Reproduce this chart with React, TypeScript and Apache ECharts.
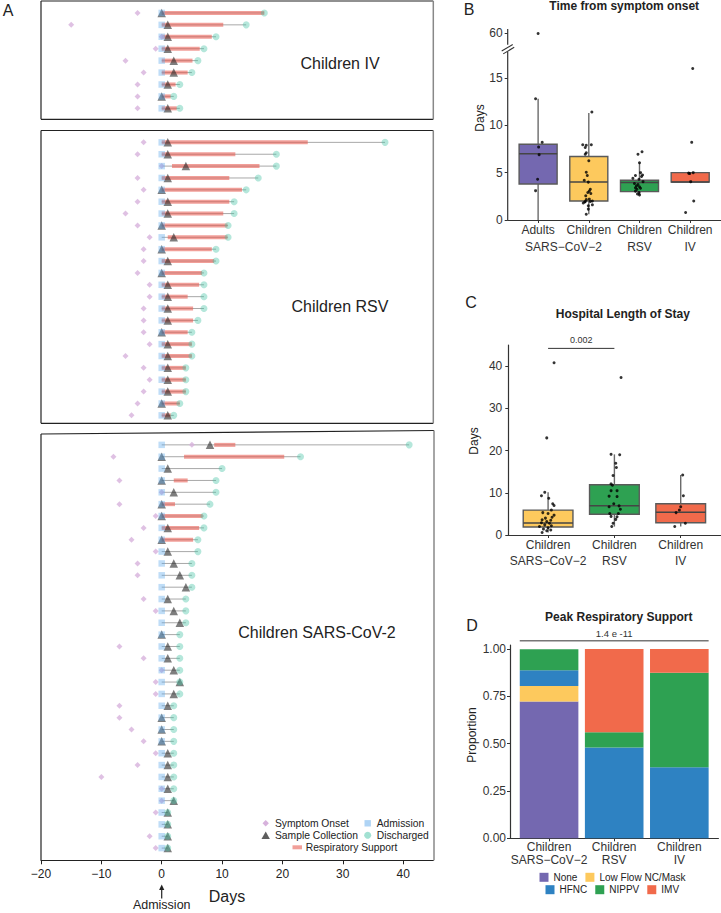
import React, { useEffect, useRef } from 'react';
import * as echarts from 'echarts';

const FONT = '"Liberation Sans", Arial, Helvetica, sans-serif';
const INK = '#222';
const LABEL = '#333';

// ---------------- Panel A : per-patient timelines (days from admission) ----------------
const A_X_TICKS = [-20, -10, 0, 10, 20, 30, 40];
const ADMISSION_DAY = 0;

const IV_ONSET: (number | null)[] = [-4, -15, 0, -1, -6, -3, -4, -4, -4];
const IV_SAMPLE = [0, 1, 1, 1, 2, 2, 1, 0, 1];
const IV_DISCHARGE = [17, 14, 9, 7, 6, 5, 3, 2, 3];
const IV_RESP_START: (number | null)[] = [0, 0, 0, 0, 0, 0, 0, 0, 0];
const IV_RESP_END: (number | null)[] = [17, 10.2, 8.3, 6.3, 5.1, 4.3, 2.3, 1.5, 2.5];

const RSV_ONSET: (number | null)[] = [-3, -4, 0, -4, -3, -4, -6, -4, -2, -3, -3, -4, -2, -2, -3, -3, -3, -2, -6, -3, -2, -3, -4, -5];
const RSV_SAMPLE = [1, 1, 4, 1, 0, 1, 1, 0, 2, 0, 1, 0, 1, 1, 1, 1, 0, 1, 1, 1, 1, 1, 0, 1];
const RSV_DISCHARGE = [37, 19, 19, 16, 14, 12, 12, 11, 11, 9, 9, 7, 7, 7, 7, 6, 5, 5, 5, 4, 4, 4, 3, 2];
const RSV_RESP_START: (number | null)[] = [0, 0, 1.7, 0, 0, 0, 0, 0, 1, 0, 0, 0, 0, 0, 0, 0, 0, 0, 0, 0, 0, 0, 0, 0];
const RSV_RESP_END: (number | null)[] = [24.2, 12.2, 16.2, 11.2, 13.3, 11.2, 10.2, 10.9, 10.9, 8.3, 8.7, 6.7, 6.2, 4.3, 5.2, 5.2, 4.3, 5, 5, 4, 4, 4, 3, 1.5];

const COV_ONSET: (number | null)[] = [5, -8, null, -7, 0, -7, -1, -3, -5, -1, -4, -4, null, -3, -1, null, null, -7, -3, 0, -1, -1, -7, -7, -5, -3, -1, -4, -10, 0, 0, -1, null, -2, -1];
const COV_SAMPLE = [8, 0, 1, 0, 2, 0, 0, 1, 0, 1, 2, 3, 4, 1, 2, 3, 0, 1, 1, 2, 3, 2, 1, 0, 0, 0, 1, 1, 1, 1, 2, 1, 1, 1, 1];
const COV_DISCHARGE = [41, 23, 10, 9, 9, 8, 7, 7, 6, 6, 5, 5, 5, 4, 4, 4, 3, 3, 3, 3, 3, 3, 2, 2, 2, 2, 2, 2, 2, 2, 2, 1, 1, 1, 1];
const COV_RESP_START: (number | null)[] = [8.7, 3.7, null, 2, null, 0, 0, 0, 0, null, null, null, null, null, null, null, null, null, null, null, null, null, null, null, null, null, null, null, null, null, null, null, null, null, null];
const COV_RESP_END: (number | null)[] = [12.2, 20.3, null, 4.3, null, 2.2, 6.8, 6.2, 5.2, null, null, null, null, null, null, null, null, null, null, null, null, null, null, null, null, null, null, null, null, null, null, null, null, null, null];

// ---------------- Panel B : time from symptom onset ----------------
const B_CATS = ['Adults', 'Children', 'Children', 'Children'];
const B_SUB = ['', '', 'RSV', 'IV'];
const B_GROUP_LABEL = 'SARS\u2212CoV\u22122';
const B_Y_TICKS = [0, 5, 10, 15];
const B_BREAK_VALUE = 60; // value drawn above the axis break
const B_BOX_STATS = [
  [0, 3.8, 7.0, 8.0, 12.8],
  [0.6, 2.0, 4.0, 6.7, 11.3],
  [2.65, 3.0, 3.95, 4.2, 6.05],
  [4.0, 4.0, 4.0, 5.0, 5.0],
];
const B_ADULT_VALUES = [60, 12.8, 8.2, 7.7, 6.9, 4.3, 3.1];
const B_ADULT_JITTER = [0, -0.05, 0.08, 0.01, 0.02, -0.01, -0.05];
const B_COV_VALUES = [11.4, 7.95, 7.9, 7.95, 7.65, 7.1, 6.95, 6.25, 5.05, 4.7, 4.2, 4.0, 3.25, 3.05, 2.9, 2.8, 2.55, 2.2, 2.15, 1.95, 1.95, 1.9, 2.0, 1.8, 1.5, 1.6, 1.15, 0.6];
const B_COV_JITTER = [0.06, -0.12, -0.05, 0.05, -0.07, -0.05, -0.07, 0, -0.05, -0.03, -0.09, -0.01, 0.03, 0.01, -0.02, 0.04, -0.06, 0.01, -0.05, -0.07, 0.03, -0.08, 0.07, -0.11, -0.01, 0.07, -0.01, -0.05];
const B_RSV_VALUES = [7.2, 6.95, 6.05, 5.0, 4.75, 4.7, 4.6, 4.4, 4.3, 4.05, 3.85, 3.75, 3.6, 3.5, 3.4, 3.35, 3.25, 3.05, 2.9, 2.75, 2.65];
const B_RSV_JITTER = [0.05, -0.03, 0, 0.02, 0.06, -0.08, 0.04, -0.13, -0.01, 0.07, -0.1, -0.03, -0.06, 0, -0.08, 0.02, -0.05, -0.08, -0.01, -0.04, 0];
const B_IV_VALUES = [16.0, 8.2, 5.0, 4.9, 4.95, 4.05, 2.0, 0.8];
const B_IV_JITTER = [0.05, 0.03, 0.06, -0.01, -0.03, 0.01, 0.07, -0.09];

// ---------------- Panel C : hospital length of stay ----------------
const C_CATS = ['Children', 'Children', 'Children'];
const C_SUB = ['SARS\u2212CoV\u22122', 'RSV', 'IV'];
const C_Y_TICKS = [0, 10, 20, 30, 40];
const C_PVALUE = '0.002';
const C_BOX_STATS = [
  [0.6, 1.9, 2.85, 5.9, 10.1],
  [2.0, 4.9, 6.95, 11.9, 19.1],
  [2.0, 2.9, 5.4, 7.4, 14.2],
];
const C_COV_VALUES = [40.8, 23.0, 10.1, 9.3, 8.7, 7.4, 7.0, 5.9, 5.3, 5.1, 4.7, 4.2, 4.0, 3.6, 3.5, 3.2, 2.9, 2.8, 2.4, 2.2, 2.0, 1.7, 1.4, 1.2, 1.0, 0.6];
const C_COV_JITTER = [0.09, -0.02, -0.05, -0.1, 0.01, 0.07, 0.09, 0.05, -0.08, 0, 0.09, 0.06, -0.04, -0.09, 0.04, -0.02, -0.1, 0.02, -0.05, 0.05, -0.13, 0, -0.07, 0.04, -0.02, -0.09];
const C_RSV_VALUES = [37.3, 19.1, 19.0, 17.0, 16.0, 14.1, 12.1, 11.8, 10.5, 10.5, 9.2, 9.1, 7.4, 6.9, 6.7, 6.1, 5.1, 5.1, 4.4, 4.3, 3.7, 2.8, 2.0];
const C_RSV_JITTER = [0.1, -0.05, 0.08, 0.02, 0.03, -0.02, -0.05, -0.03, 0.04, -0.05, -0.08, 0.04, -0.01, 0.07, -0.08, 0.09, -0.07, 0.06, -0.05, 0.04, 0.02, -0.02, -0.04];
const C_IV_VALUES = [14.2, 9.3, 6.7, 5.9, 5.3, 2.8, 2.0];
const C_IV_JITTER = [0.03, 0.04, 0, -0.02, -0.07, 0.07, -0.09];

// ---------------- Panel D : peak respiratory support ----------------
const D_CATS = ['Children', 'Children', 'Children'];
const D_SUB = ['SARS\u2212CoV\u22122', 'RSV', 'IV'];
const D_Y_TICKS = [0, 0.25, 0.5, 0.75, 1];
const D_PVALUE = '1.4 e -11';
const D_LEVELS = ['None', 'Low Flow NC/Mask', 'HFNC', 'NIPPV', 'IMV'];
const D_NONE = [0.722, 0, 0];
const D_LOWFLOW = [0.083, 0, 0];
const D_HFNC = [0.083, 0.48, 0.375];
const D_NIPPV = [0.111, 0.08, 0.5];
const D_IMV = [0, 0.44, 0.125];

// ---------------- styles ----------------
const C_ONSET = '#d7b2dc';
const C_ADMIT = 'rgba(95,170,235,0.5)';
const C_SAMPLE = 'rgba(40,40,40,0.75)';
const C_DISCH = 'rgba(70,195,165,0.5)';
const C_RESP = 'rgba(232,95,85,0.6)';
const C_GREY = '#a8a8a8';

const PURPLE = '#7468B0';
const YELLOW = '#FDC95D';
const BLUE = '#2E82C2';
const GREEN = '#2EA152';
const RED = '#F16A4B';

const GRID = [
  { left: 41, top: 1, width: 392.3, height: 118.3 },
  { left: 41, top: 130.5, width: 392.3, height: 292.8 },
  { left: 41, top: 433, width: 392.3, height: 427.3 },
  { left: 507.7, top: 29, width: 212.9, height: 191 },
  { left: 508.3, top: 345, width: 212.2, height: 190 },
  { left: 510, top: 645, width: 208.4, height: 193.3 },
];
const A_Y_MAX = [9.92, 24.67, 36.03];
const B_Y_MAX = 20.17;
const B_BREAK_AT = 19.7; // axis position used for the value above the break
const B_BREAK_LOW = 17.77;
const B_BREAK_HIGH = 18.5;

const minusFmt = (v: number) => (v < 0 ? '\u2212' + Math.abs(v) : String(v));
const showB = (v: number) => (v > 17.5 ? B_BREAK_AT + (v - B_BREAK_VALUE) * 0.01 : v);

function segRender(color: string, width: number) {
  return (params: any, api: any) => {
    const a = api.coord([api.value(0), api.value(2)]);
    const b = api.coord([api.value(1), api.value(2)]);
    return {
      type: 'line',
      shape: { x1: a[0], y1: a[1], x2: b[0], y2: b[1] },
      style: { stroke: color, lineWidth: width, lineCap: 'butt' },
      silent: true,
    };
  };
}

function timelineSeries(gi: number, onset: (number | null)[], sample: number[], disch: number[], rs: (number | null)[], re: (number | null)[]) {
  const pts = (arr: (number | null)[]) =>
    arr.map((v, i) => (v == null ? null : [v, i + 1])).filter((d) => d != null);
  const common = { xAxisIndex: gi, yAxisIndex: gi, silent: true, emphasis: { disabled: true } };
  return [
    {
      ...common, type: 'custom', z: 2, encode: { x: [0, 1], y: 2 },
      renderItem: segRender(C_GREY, 1),
      data: disch.map((d, i) => [ADMISSION_DAY, d, i + 1]),
    },
    {
      ...common, type: 'custom', z: 3, encode: { x: [0, 1], y: 2 },
      renderItem: segRender(C_RESP, 4),
      data: rs.map((s, i) => (s == null || re[i] == null ? null : [s, re[i], i + 1])).filter((d) => d != null),
    },
    { ...common, type: 'scatter', z: 4, symbol: 'diamond', symbolSize: 6, itemStyle: { color: C_ONSET }, data: pts(onset) },
    { ...common, type: 'scatter', z: 5, symbol: 'triangle', symbolSize: 8.5, itemStyle: { color: C_SAMPLE }, data: pts(sample) },
    { ...common, type: 'scatter', z: 6, symbol: 'rect', symbolSize: 6.5, itemStyle: { color: C_ADMIT }, data: pts(sample.map(() => ADMISSION_DAY)) },
    { ...common, type: 'scatter', z: 7, symbol: 'circle', symbolSize: 7, itemStyle: { color: C_DISCH }, data: pts(disch) },
  ];
}

function boxSeries(ai: number, stats: number[][], colors: string[]) {
  return {
    type: 'custom', xAxisIndex: ai, yAxisIndex: ai, z: 2, silent: true,
    encode: { x: 0, y: [1, 2, 3, 4, 5] },
    data: stats.map((s, i) => [i + 1, ...s]),
    renderItem: (params: any, api: any) => {
      const x = api.value(0);
      const lo = api.coord([x, api.value(1)]);
      const q1 = api.coord([x, api.value(2)]);
      const md = api.coord([x, api.value(3)]);
      const q3 = api.coord([x, api.value(4)]);
      const hi = api.coord([x, api.value(5)]);
      const bw = api.size([1, 0])[0] * 0.75;
      const cx = lo[0];
      const wStyle = { stroke: '#6a6a6a', lineWidth: 1.4 };
      return {
        type: 'group',
        children: [
          { type: 'line', shape: { x1: cx, y1: lo[1], x2: cx, y2: q1[1] }, style: wStyle },
          { type: 'line', shape: { x1: cx, y1: q3[1], x2: cx, y2: hi[1] }, style: wStyle },
          { type: 'rect', shape: { x: cx - bw / 2, y: q3[1], width: bw, height: q1[1] - q3[1] }, style: { fill: colors[params.dataIndex], stroke: '#5a5a5a', lineWidth: 1.4 } },
          { type: 'line', shape: { x1: cx - bw / 2, y1: md[1], x2: cx + bw / 2, y2: md[1] }, style: { stroke: '#454545', lineWidth: 1.5 } },
        ],
      };
    },
  };
}

function jitterPoints(ai: number, groups: number[][], jitters: number[][], map: (v: number) => number = (v) => v) {
  const data: number[][] = [];
  groups.forEach((vals, g) => vals.forEach((v, k) => data.push([g + 1 + jitters[g][k], map(v)])));
  return {
    type: 'scatter', xAxisIndex: ai, yAxisIndex: ai, z: 5, silent: true,
    symbol: 'circle', symbolSize: 3, itemStyle: { color: '#000' }, data,
  };
}

function stackedSeries(ai: number, names: string[], layers: number[][], colors: string[]) {
  return names.map((name, k) => ({
    name, type: 'custom', xAxisIndex: ai, yAxisIndex: ai, z: 2, silent: true,
    itemStyle: { color: colors[k] },
    encode: { x: 0, y: [1, 2] },
    data: layers[k].map((v, i) => {
      let base = 0;
      for (let j = 0; j < k; j++) base += layers[j][i];
      return [i + 1, base, base + v];
    }),
    renderItem: (params: any, api: any) => {
      const x = api.value(0);
      const a = api.coord([x, api.value(1)]);
      const b = api.coord([x, api.value(2)]);
      const w = api.size([1, 0])[0] * 0.9;
      return { type: 'rect', shape: { x: a[0] - w / 2, y: b[1], width: w, height: a[1] - b[1] }, style: { fill: colors[k] } };
    },
  }));
}

const tickStyle = { color: '#333', width: 1 };
const axisLineStyle = { color: '#333', width: 1.2 };
const labelText = { color: LABEL, fontSize: 12, fontFamily: FONT };

function catXAxis(gi: number, max: number, cats: string[], subs: string[], lineHeight: number, margin: number) {
  const vals = cats.map((_, i) => i + 1);
  return {
    gridIndex: gi, type: 'value', min: 0.4, max, splitLine: { show: false },
    axisLine: { show: true, onZero: false, lineStyle: axisLineStyle },
    axisTick: { show: true, length: 3, customValues: vals, lineStyle: tickStyle },
    axisLabel: {
      show: true, customValues: vals, margin, lineHeight, ...labelText,
      formatter: (v: number) => {
        const i = Math.round(v) - 1;
        return subs[i] ? cats[i] + '\n' + subs[i] : cats[i];
      },
    },
  };
}

function numYAxis(gi: number, max: number, ticks: number[], margin: number, fmt: (v: number) => string, showLine = true) {
  return {
    gridIndex: gi, type: 'value', min: 0, max, splitLine: { show: false },
    axisLine: { show: showLine, onZero: false, lineStyle: axisLineStyle },
    axisTick: { show: true, length: 3, customValues: ticks, lineStyle: tickStyle },
    axisLabel: { show: true, customValues: ticks, margin, formatter: fmt, ...labelText },
  };
}

function txt(text: string, x: number, y: number, extra: any = {}, el: any = {}) {
  return {
    type: 'text', x, y, silent: true, z: 50, ...el,
    style: {
      text, fill: INK, fontFamily: FONT, fontSize: 12,
      align: 'center', verticalAlign: 'middle', textAlign: 'center', textVerticalAlign: 'middle',
      ...extra,
    },
  };
}
function ln(x1: number, y1: number, x2: number, y2: number, stroke = INK, lineWidth = 1.2) {
  return { type: 'line', silent: true, z: 50, shape: { x1, y1, x2, y2 }, style: { stroke, lineWidth } };
}

export default function App() {
  const ref = useRef<HTMLDivElement>(null);

  useEffect(() => {
    if (!ref.current) return;
    const chart = echarts.init(ref.current, null, { renderer: 'svg', width: 721, height: 913 });

    const legendCommon = {
      padding: 0, orient: 'horizontal', icon: 'rect', itemWidth: 9, itemHeight: 9, itemGap: 8,
      selectedMode: false, textStyle: { fontSize: 10, color: INK, fontFamily: FONT },
    };

    const option: any = {
      animation: false,
      textStyle: { fontFamily: FONT },
      grid: GRID.map((g) => ({ ...g, show: false, containLabel: false, outerBoundsMode: 'none' })),
      xAxis: [
        { gridIndex: 0, type: 'value', min: -20, max: 45, show: false },
        { gridIndex: 1, type: 'value', min: -20, max: 45, show: false },
        {
          gridIndex: 2, type: 'value', min: -20, max: 45, splitLine: { show: false },
          axisLine: { show: true, onZero: false, lineStyle: { color: INK, width: 1.2 } },
          axisTick: { show: true, length: 4, customValues: A_X_TICKS, lineStyle: { color: INK, width: 1 } },
          axisLabel: { show: true, customValues: A_X_TICKS, margin: 8, formatter: minusFmt, ...labelText, color: INK },
        },
        catXAxis(3, 4.6, B_CATS, B_SUB, 16.5, 2),
        catXAxis(4, 3.6, C_CATS, C_SUB, 15.7, 2.2),
        catXAxis(5, 3.6, D_CATS, D_SUB, 12.7, 2.6),
      ],
      yAxis: [
        { gridIndex: 0, type: 'value', min: 0, max: A_Y_MAX[0], inverse: true, show: false },
        { gridIndex: 1, type: 'value', min: 0, max: A_Y_MAX[1], inverse: true, show: false },
        { gridIndex: 2, type: 'value', min: 0, max: A_Y_MAX[2], inverse: true, show: false },
        numYAxis(3, B_Y_MAX, [...B_Y_TICKS, B_BREAK_AT], 5, (v) => (v > 17 ? String(B_BREAK_VALUE) : String(v)), false),
        numYAxis(4, 45, C_Y_TICKS, 6, (v) => String(v)),
        numYAxis(5, 1.021, D_Y_TICKS, 4, (v) => v.toFixed(2)),
      ],
      legend: [
        { ...legendCommon, data: D_LEVELS.slice(0, 2), left: 539.5, top: 872.3 },
        { ...legendCommon, data: D_LEVELS.slice(2), left: 545.5, top: 884.7 },
      ],
      series: [
        ...timelineSeries(0, IV_ONSET, IV_SAMPLE, IV_DISCHARGE, IV_RESP_START, IV_RESP_END),
        ...timelineSeries(1, RSV_ONSET, RSV_SAMPLE, RSV_DISCHARGE, RSV_RESP_START, RSV_RESP_END),
        ...timelineSeries(2, COV_ONSET, COV_SAMPLE, COV_DISCHARGE, COV_RESP_START, COV_RESP_END),
        boxSeries(3, B_BOX_STATS, [PURPLE, YELLOW, GREEN, RED]),
        jitterPoints(3, [B_ADULT_VALUES, B_COV_VALUES, B_RSV_VALUES, B_IV_VALUES], [B_ADULT_JITTER, B_COV_JITTER, B_RSV_JITTER, B_IV_JITTER], showB),
        boxSeries(4, C_BOX_STATS, [YELLOW, GREEN, RED]),
        jitterPoints(4, [C_COV_VALUES, C_RSV_VALUES, C_IV_VALUES], [C_COV_JITTER, C_RSV_JITTER, C_IV_JITTER]),
        ...stackedSeries(5, D_LEVELS, [D_NONE, D_LOWFLOW, D_HFNC, D_NIPPV, D_IMV], [PURPLE, YELLOW, BLUE, GREEN, RED]),
      ],
    };
    chart.setOption(option);

    const p = (g: number, x: number, y: number) => chart.convertToPixel({ gridIndex: g }, [x, y]) as number[];

    const g: any[] = [];
    // panel letters
    g.push(txt('A', 8, 10.5, { fontSize: 16 }));
    g.push(txt('B', 469, 9.5, { fontSize: 16 }));
    g.push(txt('C', 471, 302, { fontSize: 16 }));
    g.push(txt('D', 472, 625, { fontSize: 16 }));

    // panel A frames
    const R = GRID[0].left + GRID[0].width;
    const L = GRID[0].left;
    [0, 1].forEach((i) => {
      const t = GRID[i].top, b = GRID[i].top + GRID[i].height;
      g.push(ln(L, t, R, t), ln(L, b, R, b), ln(L, t, L, b), ln(R, t, R, b, '#888', 1.5));
    });
    const cb = GRID[2].top + GRID[2].height;
    g.push(ln(L, 434, R + 0.7, 430.5), ln(L, 434, L, cb), ln(R + 0.7, 430.5, R + 0.7, cb, '#888', 1.5));

    // panel A titles
    g.push(txt('Children IV', 340, 63, { fontSize: 16 }));
    g.push(txt('Children RSV', 340, 306, { fontSize: 16 }));
    g.push(txt('Children SARS-CoV-2', 317, 632.5, { fontSize: 16 }));

    // panel A axis title and admission arrow
    const ax0 = p(2, ADMISSION_DAY, 0)[0];
    g.push(txt('Days', 227, 896, { fontSize: 16 }));
    g.push(txt('Admission', ax0, 905, { fontSize: 12.5 }));
    g.push(ln(ax0, 898.5, ax0, 888, INK, 1.2));
    g.push({ type: 'polygon', silent: true, z: 50, shape: { points: [[ax0, 884.5], [ax0 - 2.6, 890], [ax0 + 2.6, 890]] }, style: { fill: INK } });

    // panel A legend
    const lf = { fontSize: 10.3, align: 'left', textAlign: 'left' };
    g.push({ type: 'polygon', silent: true, z: 50, shape: { points: [[262.5, 823.3], [265.7, 820.1], [268.9, 823.3], [265.7, 826.5]] }, style: { fill: C_ONSET } });
    g.push(txt('Symptom Onset', 275, 823.3, lf));
    g.push({ type: 'rect', silent: true, z: 50, shape: { x: 364.5, y: 820.1, width: 6.4, height: 6.4 }, style: { fill: C_ADMIT } });
    g.push(txt('Admission', 376.7, 823.3, lf));
    g.push({ type: 'polygon', silent: true, z: 50, shape: { points: [[261.5, 839], [265.7, 831.5], [269.9, 839]] }, style: { fill: C_SAMPLE } });
    g.push(txt('Sample Collection', 275, 835.3, lf));
    g.push({ type: 'circle', silent: true, z: 50, shape: { cx: 367.7, cy: 835.3, r: 3.5 }, style: { fill: C_DISCH } });
    g.push(txt('Discharged', 376.7, 835.3, lf));
    g.push({ type: 'line', silent: true, z: 50, shape: { x1: 292.5, y1: 847.3, x2: 302, y2: 847.3 }, style: { stroke: C_RESP, lineWidth: 4 } });
    g.push(txt('Respiratory Support', 305.7, 847.3, lf));

    // panel B: title, axis name, broken axis line, group label
    g.push(txt('Time from symptom onset', 624.2, 5.8, { fontSize: 12, fontWeight: 'bold' }));
    g.push(txt('Days', 480, 118, { fontSize: 12 }, { rotation: Math.PI / 2 }));
    const b0 = p(3, 0.4, 0), bLo = p(3, 0.4, B_BREAK_LOW), bHi = p(3, 0.4, B_BREAK_HIGH), bTop = p(3, 0.4, B_Y_MAX);
    g.push(ln(b0[0], b0[1], bLo[0], bLo[1], '#333', 1.2));
    g.push(ln(bHi[0], bHi[1], bTop[0], bTop[1], '#333', 1.2));
    const bc = p(3, 0.4, (B_BREAK_LOW + B_BREAK_HIGH) / 2);
    g.push(ln(bc[0] - 6, bc[1] + 2.8, bc[0] + 5, bc[1] - 3.8, '#333', 1.1));
    g.push(ln(bc[0] - 4.5, bc[1] + 5.6, bc[0] + 6.5, bc[1] - 1, '#333', 1.1));
    const bg = p(3, 1.5, 0);
    g.push(txt(B_GROUP_LABEL, bg[0], bg[1] + 2 + 16.5 * 1.5, { fontSize: 12, fill: LABEL }));

    // panel C: title, axis name, significance bracket
    g.push(txt('Hospital Length of Stay', 622.8, 314, { fontSize: 12, fontWeight: 'bold' }));
    g.push(txt('Days', 474, 441, { fontSize: 12 }, { rotation: Math.PI / 2 }));
    const c1 = p(4, 1, 44.2), c2 = p(4, 2, 44.2), ct = p(4, 1.5, 46.3);
    g.push(ln(c1[0], c1[1], c2[0], c2[1], '#333', 1));
    g.push(txt(C_PVALUE, ct[0], ct[1], { fontSize: 9, fill: '#333' }));

    // panel D: title, axis name, significance bracket
    g.push(txt('Peak Respiratory Support', 618.8, 616.5, { fontSize: 12, fontWeight: 'bold' }));
    g.push(txt('Proportion', 472, 735, { fontSize: 12 }, { rotation: Math.PI / 2 }));
    const d1 = p(5, 0.55, 1.044), d2 = p(5, 3.45, 1.044), dt = p(5, 2, 1.08);
    g.push(ln(d1[0], d1[1], d2[0], d2[1], '#777', 1.5));
    g.push(txt(D_PVALUE, dt[0], dt[1], { fontSize: 9.5, fill: '#333' }));

    chart.setOption({ graphic: { elements: g } });

    return () => chart.dispose();
  }, []);

  return <div ref={ref} style={{ position: 'absolute', left: 0, top: 0, width: 721, height: 913 }} />;
}
